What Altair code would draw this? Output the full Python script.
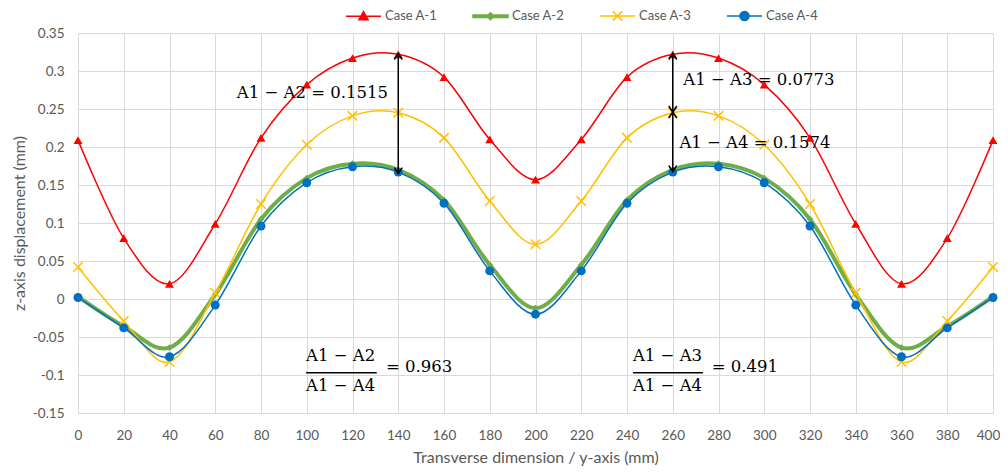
import altair as alt
import pandas as pd

# ---------------- data ----------------
x_vals = [0, 20, 40, 60, 80, 100, 120, 140, 160, 180, 200,
          220, 240, 260, 280, 300, 320, 340, 360, 380, 400]
series = ["Case A-1", "Case A-2", "Case A-3", "Case A-4"]
a1 = [0.209, 0.080, 0.020, 0.099, 0.212, 0.282, 0.317, 0.322, 0.292, 0.210, 0.157,
      0.210, 0.292, 0.322, 0.317, 0.282, 0.212, 0.099, 0.020, 0.080, 0.209]
a2 = [0.003, -0.036, -0.064, 0.006, 0.105, 0.159, 0.178, 0.170, 0.130, 0.045, -0.012,
      0.045, 0.130, 0.170, 0.178, 0.159, 0.105, 0.006, -0.064, -0.036, 0.003]
a3 = [0.042, -0.029, -0.083, 0.008, 0.125, 0.203, 0.241, 0.245, 0.212, 0.129, 0.072,
      0.129, 0.212, 0.245, 0.241, 0.203, 0.125, 0.008, -0.083, -0.029, 0.042]
a4 = [0.002, -0.038, -0.076, -0.008, 0.096, 0.153, 0.174, 0.167, 0.126, 0.037, -0.020,
      0.037, 0.126, 0.167, 0.174, 0.153, 0.096, -0.008, -0.076, -0.038, 0.002]
values = [a1, a2, a3, a4]

colors = ["#FF0000", "#70AD47", "#FFC000", "#0070C0"]
line_widths = [1.5, 4, 1.5, 1.5]

x_ticks = [0, 20, 40, 60, 80, 100, 120, 140, 160, 180, 200,
           220, 240, 260, 280, 300, 320, 340, 360, 380, 400]
y_ticks = [-0.15, -0.1, -0.05, 0, 0.05, 0.1, 0.15, 0.2, 0.25, 0.3, 0.35]

# annotations
arrow_x = [140, 260, 260]
arrow_top = [0.323, 0.323, 0.246]
arrow_bottom = [0.165, 0.246, 0.1675]

eq_text = ["A1 − A2 = 0.1515", "A1 − A3 = 0.0773", "A1 − A4 = 0.1574"]
eq_x = [69.4, 264.6, 262.9]
eq_y = [0.2707, 0.288, 0.2057]

frac_num = ["A1 − A2", "A1 − A3"]
frac_den = ["A1 − A4", "A1 − A4"]
frac_cx = [114.8, 257.7]
frac_x1 = [99.7, 242.6]
frac_x2 = [130.6, 273.2]
frac_num_y = [-0.075, -0.075]
frac_bar_y = [-0.097, -0.097]
frac_den_y = [-0.114, -0.114]
frac_res = ["= 0.963", "= 0.491"]
frac_res_x = [134.6, 277.0]
frac_res_y = [-0.089, -0.089]

# ---------------- tables ----------------
rows = []
for s, vals in zip(series, values):
    for xv, yv in zip(x_vals, vals):
        rows.append({"series": s, "x": xv, "y": yv})
df = pd.DataFrame(rows)

arrows = pd.DataFrame({"x": arrow_x, "y": arrow_top, "y2": arrow_bottom})
eqs = pd.DataFrame({"x": eq_x, "y": eq_y, "text": eq_text})
nums = pd.DataFrame({"x": frac_cx, "y": frac_num_y, "text": frac_num})
dens = pd.DataFrame({"x": frac_cx, "y": frac_den_y, "text": frac_den})
bars = pd.DataFrame({"x": frac_x1, "x2": frac_x2, "y": frac_bar_y})
ress = pd.DataFrame({"x": frac_res_x, "y": frac_res_y, "text": frac_res})

# ---------------- encodings ----------------
grey = "#595959"
grid = "#d9d9d9"
x_axis = alt.Axis(values=x_ticks, title="Transverse dimension / y-axis (mm)", grid=True,
                  gridColor=grid, domainColor=grid, ticks=False, labelFont="Lato",
                  labelFontSize=13.5, labelColor=grey, titleFont="Lato", titleFontSize=16,
                  titleColor=grey, titleFontWeight="normal", labelPadding=15,
                  titlePadding=8, labelFlush=False,
                  labelOffset={"condition": {"test": "datum.value == 400", "value": -5},
                               "value": 0})
y_axis = alt.Axis(values=y_ticks, title="z-axis displacement (mm)", grid=True,
                  gridColor=grid, domainColor=grid, ticks=False, labelFont="Lato",
                  labelFontSize=13.5, labelColor=grey, titleFont="Lato", titleFontSize=16,
                  titleColor=grey, titleFontWeight="normal", labelPadding=14,
                  titlePadding=5, labelExpr="'' + datum.value")
xs = alt.Scale(domain=[0, 400], nice=False)
ys = alt.Scale(domain=[-0.15, 0.35], nice=False)
X = alt.X("x:Q", scale=xs, axis=x_axis)
Y = alt.Y("y:Q", scale=ys, axis=y_axis)

marker_shapes = ["triangle-up", "diamond", "M-1,-1L1,1M-1,1L1,-1", "circle"]
marker_sizes = [80, 45, 90, 80]
marker_filled = [True, True, False, True]

base = alt.Chart(df)
layers = []
for i, s in enumerate(series):
    sub = base.transform_filter(alt.datum.series == s)
    layers.append(sub.mark_line(interpolate="cardinal", strokeWidth=line_widths[i],
                                color=colors[i])
                  .encode(x=X, y=Y))
    layers.append(sub.mark_point(shape=marker_shapes[i], size=marker_sizes[i],
                                 filled=marker_filled[i], opacity=1, strokeWidth=1.5,
                                 color=colors[i])
                  .encode(x=X, y=Y))

# legend (line + marker glyphs)
legend_paths = [
    "M-1,0H1M0,-0.27L0.26,0.2L-0.26,0.2Z",
    "M-1,-0.065H1V0.065H-1ZM0,-0.2L0.2,0L0,0.2L-0.2,0Z",
    "M-1,0H1M-0.27,-0.27L0.27,0.27M-0.27,0.27L0.27,-0.27",
    "M-1,0H1M-0.26,0C-0.26,-0.14,-0.14,-0.26,0,-0.26C0.14,-0.26,0.26,-0.14,0.26,0"
    "C0.26,0.14,0.14,0.26,0,0.26C-0.14,0.26,-0.26,0.14,-0.26,0Z",
]
leg = alt.Legend(title=None, orient="none", legendX=267, legendY=-36,
                 direction="horizontal", columns=4, symbolSize=1225, labelOffset=3,
                 columnPadding=32, labelFont="Lato", labelFontSize=13, labelColor=grey,
                 symbolStrokeWidth=1.5, padding=0, symbolOpacity=1)
legend_layer = base.transform_filter("false").mark_point(opacity=1, strokeWidth=1.5).encode(
    shape=alt.Shape("series:N", scale=alt.Scale(domain=series, range=legend_paths), legend=leg),
    fill=alt.Fill("series:N", scale=alt.Scale(domain=series, range=colors), legend=leg),
    stroke=alt.Stroke("series:N", scale=alt.Scale(domain=series, range=colors), legend=leg),
)
layers.append(legend_layer)

# arrows
layers.append(alt.Chart(arrows).mark_rule(color="black", strokeWidth=1.5)
              .encode(x=X, y=Y, y2="y2:Q"))
layers.append(alt.Chart(arrows).mark_point(shape="M-1,1.5L0,0L1,1.5", size=64, filled=False,
                                           color="black", strokeWidth=1.5, opacity=1)
              .encode(x=X, y=Y))
layers.append(alt.Chart(arrows).mark_point(shape="M-1,-1.5L0,0L1,-1.5", size=64, filled=False,
                                           color="black", strokeWidth=1.5, opacity=1)
              .encode(x=X, y=alt.Y("y2:Q", scale=ys, axis=y_axis)))

font = "DejaVu Serif"
layers.append(alt.Chart(eqs).mark_text(align="left", baseline="middle", font=font,
                                       fontSize=16.5, color="black")
              .encode(x=X, y=Y, text="text:N"))
layers.append(alt.Chart(nums).mark_text(align="center", baseline="middle", font=font,
                                        fontSize=16.5, color="black")
              .encode(x=X, y=Y, text="text:N"))
layers.append(alt.Chart(dens).mark_text(align="center", baseline="middle", font=font,
                                        fontSize=16.5, color="black")
              .encode(x=X, y=Y, text="text:N"))
layers.append(alt.Chart(bars).mark_rule(color="black", strokeWidth=1.5)
              .encode(x=X, x2="x2:Q", y=Y))
layers.append(alt.Chart(ress).mark_text(align="left", baseline="middle", font=font,
                                        fontSize=16.5, color="black")
              .encode(x=X, y=Y, text="text:N"))

chart = alt.layer(*layers).properties(
    width=915, height=380,
    autosize=alt.AutoSizeParams(type="none"),
    padding={"left": 70, "top": 25, "right": 7, "bottom": 54},
).configure_view(stroke=None)

chart.save("out.html", embed_options={"renderer": "svg", "actions": False})
